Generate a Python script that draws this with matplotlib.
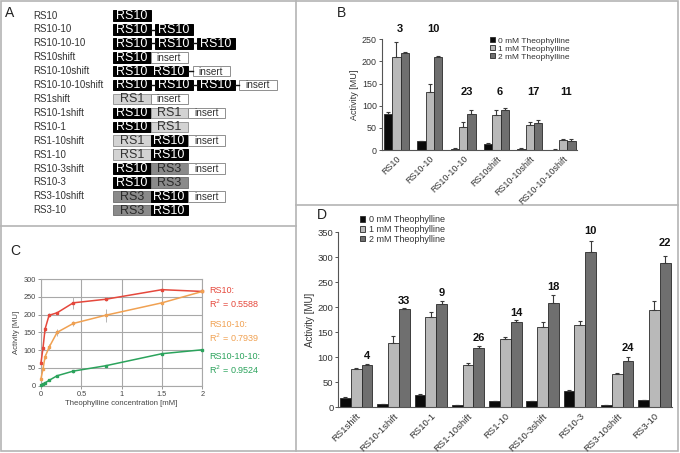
import numpy as np
import matplotlib
matplotlib.use("Agg")
import matplotlib.pyplot as plt
from matplotlib.patches import Rectangle

plt.rcParams["font.family"] = ["Liberation Sans", "DejaVu Sans"]

# ---------------- data ----------------
# Panel A: construct names and their building blocks ("-" = linker)
construct_names = [
    "RS10", "RS10-10", "RS10-10-10", "RS10shift", "RS10-10shift",
    "RS10-10-10shift", "RS1shift", "RS10-1shift", "RS10-1", "RS1-10shift",
    "RS1-10", "RS10-3shift", "RS10-3", "RS3-10shift", "RS3-10",
]
construct_parts = [
    ["RS10"],
    ["RS10", "-", "RS10"],
    ["RS10", "-", "RS10", "-", "RS10"],
    ["RS10", "insert"],
    ["RS10", "RS10", "-", "insert"],
    ["RS10", "-", "RS10", "-", "RS10", "-", "insert"],
    ["RS1", "insert"],
    ["RS10", "RS1", "insert"],
    ["RS10", "RS1"],
    ["RS1", "RS10", "insert"],
    ["RS1", "RS10"],
    ["RS10", "RS3", "insert"],
    ["RS10", "RS3"],
    ["RS3", "RS10", "insert"],
    ["RS3", "RS10"],
]

# Panel B
b_groups = ["RS10", "RS10-10", "RS10-10-10", "RS10shift", "RS10-10shift", "RS10-10-10shift"]
b_0mM = [82, 20, 3, 14, 3, 1]
b_1mM = [210, 132, 51, 78, 56, 22]
b_2mM = [219, 211, 81, 90, 62, 21]
b_0mM_err = [3, 1, 0.5, 1, 1, 0.3]
b_1mM_err = [33, 18, 13, 12, 8, 2]
b_2mM_err = [2, 1, 9, 5, 5, 3]
b_fold = ["3", "10", "23", "6", "17", "11"]
b_fold_y = [273, 273, 130, 130, 130, 130]

# Panel C
c_conc = [0, 0.025, 0.05, 0.1, 0.2, 0.4, 0.8, 1.5, 2.0]
c_rs10 = [65, 106, 159, 198, 205, 233, 243, 270, 265]
c_rs10_err = [3, 4, 10, 5, 3, 17, 6, 3, 2]
c_rs1010 = [20, 47, 81, 108, 150, 175, 198, 233, 265]
c_rs1010_err = [3, 4, 7, 8, 9, 7, 18, 3, 3]
c_rs101010 = [2, 5, 8, 15, 28, 41, 56, 90, 101]
c_rs101010_err = [1, 1, 1, 2, 2, 4, 3, 2, 2]
c_labels = ["RS10:\nR$^2$ = 0.5588", "RS10-10:\nR$^2$ = 0.7939", "RS10-10-10:\nR$^2$ = 0.9524"]

# Panel D
d_groups = ["RS1shift", "RS10-1shift", "RS10-1", "RS1-10shift", "RS1-10",
            "RS10-3shift", "RS10-3", "RS3-10shift", "RS3-10"]
d_0mM = [19, 6, 25, 5, 12, 12, 33, 4, 14]
d_1mM = [77, 128, 180, 84, 136, 161, 164, 66, 194]
d_2mM = [84, 196, 207, 118, 170, 208, 310, 93, 288]
d_0mM_err = [1, 0.5, 2, 0.5, 1, 1, 1, 0.5, 1]
d_1mM_err = [1, 14, 10, 5, 4, 10, 8, 2, 19]
d_2mM_err = [2, 3, 5, 4, 4, 16, 22, 7, 15]
d_fold = ["4", "33", "9", "26", "14", "18", "10", "24", "22"]
d_fold_y = [103, 213, 228, 138, 188, 240, 351, 118, 328]

legend_labels = ["0 mM Theophylline", "1 mM Theophylline", "2 mM Theophylline"]
bar_colors = ["#0a0a0a", "#b9b9b9", "#6f6f6f"]
line_colors = ["#e5483c", "#f0a152", "#2ba35c"]

W, H = 680, 453
fig = plt.figure(figsize=(W / 100, H / 100), dpi=100)


def fig_rect(left, top, right, bottom):
    """pixel box -> figure fraction rect"""
    return [left / W, 1 - bottom / H, (right - left) / W, (bottom - top) / H]


# --- overlay in pixel coords: panel borders, letters, panel A ---
ax0 = fig.add_axes([0, 0, 1, 1])
ax0.set_xlim(0, W)
ax0.set_ylim(H, 0)
ax0.axis("off")

border = "#b4b4b4"
ax0.add_patch(Rectangle((1, 1), W - 3, H - 3, fill=False, ec=border, lw=1.2))
ax0.plot([296, 296], [1, H - 2], color=border, lw=1.2)
ax0.plot([1, 296], [226, 226], color=border, lw=1.2)
ax0.plot([296, W - 2], [205, 205], color=border, lw=1.2)

for letter, (lx, ly) in zip("ABCD", [(10, 13), (342, 13), (15, 251), (322, 215)]):
    ax0.text(lx, ly, letter, fontsize=10, ha="center", va="center", color="#222")

block_style = {
    "RS10": dict(fc="#000000", ec="#000000", tc="white", fs=9),
    "RS1": dict(fc="#d3d3d3", ec="#9a9a9a", tc="#333333", fs=9),
    "RS3": dict(fc="#8a8a8a", ec="#777777", tc="#2a2a2a", fs=9),
    "insert": dict(fc="white", ec="#8f8f8f", tc="#333333", fs=7.2),
}
box_w, box_h, link_w = 37.2, 10.5, 4.8
row0, row_step = 15.6, 13.9
for i, (name, parts) in enumerate(zip(construct_names, construct_parts)):
    yc = row0 + i * row_step
    ax0.text(33, yc, name, fontsize=7, color="#333", ha="left", va="center")
    x = 113.3
    for p in parts:
        if p == "-":
            ax0.plot([x, x + link_w], [yc, yc], color="#111", lw=1.0)
            x += link_w
            continue
        st = block_style[p]
        ax0.add_patch(Rectangle((x, yc - box_h / 2), box_w, box_h,
                                fc=st["fc"], ec=st["ec"], lw=0.7))
        ax0.text(x + box_w / 2, yc + 0.4, p, fontsize=st["fs"], color=st["tc"],
                 ha="center", va="center")
        x += box_w


def bar_panel(ax, groups, vals, errs, width, xlim, ymax, ystep, fold, fold_y, fold_dx):
    xs = np.arange(len(groups))
    handles = []
    for k in range(3):
        e = np.array(errs[k], dtype=float)
        h = ax.bar(xs + (k - 1) * width, vals[k], width, color=bar_colors[k],
                   edgecolor="#2a2a2a", linewidth=0.6,
                   yerr=[np.zeros_like(e), e],
                   error_kw=dict(ecolor="#3a3a3a", elinewidth=0.8, capsize=1.5, capthick=0.8))
        handles.append(h)
    for x, t, y in zip(xs, fold, fold_y):
        ax.text(x + fold_dx, y, t, fontsize=8, fontweight="bold", ha="center",
                va="center", color="#111")
    ax.set_xlim(*xlim)
    ax.set_ylim(0, ymax)
    ax.set_yticks(np.arange(0, ymax + 1, ystep))
    ax.set_xticks(xs)
    ax.set_xticklabels(groups, rotation=45, ha="right", rotation_mode="anchor")
    for s in ["top", "right"]:
        ax.spines[s].set_visible(False)
    for s in ["left", "bottom"]:
        ax.spines[s].set_color("#555")
        ax.spines[s].set_linewidth(0.8)
    ax.tick_params(axis="y", length=2, width=0.7, colors="#555", labelcolor="#333", pad=1.5)
    ax.tick_params(axis="x", length=0, labelcolor="#333", pad=3)
    ax.set_ylabel("Activity [MU]", color="#333", labelpad=2)
    ax.patch.set_alpha(0)
    return handles


# --- panel B ---
axB = fig.add_axes(fig_rect(381.7, 39.3, 577, 150))
hB = bar_panel(axB, b_groups, [b_0mM, b_1mM, b_2mM], [b_0mM_err, b_1mM_err, b_2mM_err],
               0.25, (-0.44, 5.42), 250, 50, b_fold, b_fold_y, 0.1)
for lab in axB.get_xticklabels() + axB.get_yticklabels():
    lab.set_fontsize(6.4)
axB.yaxis.label.set_fontsize(6.5)
axB.legend(hB, legend_labels, loc="upper left", bbox_to_anchor=(490 / W, 1 - 37 / H),
           bbox_transform=fig.transFigure, frameon=False, fontsize=6,
           handlelength=0.6, handleheight=0.6, handletextpad=0.3, labelspacing=0.05,
           borderpad=0, borderaxespad=0, labelcolor="#333")

# --- panel D ---
axD = fig.add_axes(fig_rect(338.3, 232, 672, 407.3))
hD = bar_panel(axD, d_groups, [d_0mM, d_1mM, d_2mM], [d_0mM_err, d_1mM_err, d_2mM_err],
               0.29, (-0.48, 8.47), 350, 50, d_fold, d_fold_y, 0.29)
for lab in axD.get_xticklabels() + axD.get_yticklabels():
    lab.set_fontsize(6.8)
axD.yaxis.label.set_fontsize(7)
axD.legend(hD, legend_labels, loc="upper left", bbox_to_anchor=(360 / W, 1 - 215 / H),
           bbox_transform=fig.transFigure, frameon=False, fontsize=6.5,
           handlelength=0.6, handleheight=0.6, handletextpad=0.35, labelspacing=0.1,
           borderpad=0, borderaxespad=0, labelcolor="#333")

# --- panel C ---
axC = fig.add_axes(fig_rect(41, 279, 202.3, 385.7))
series = [(c_rs10, c_rs10_err), (c_rs1010, c_rs1010_err), (c_rs101010, c_rs101010_err)]
for (vals, errs), col in zip(series, line_colors):
    axC.errorbar(c_conc, vals, yerr=errs, fmt="none", ecolor="#b5b5b5", elinewidth=0.7,
                 capsize=0, zorder=2)
    axC.plot(c_conc, vals, color=col, lw=1.1, marker="s", ms=2.0, zorder=3, clip_on=False)
for txt, col, yc in zip(c_labels, line_colors, [297.7, 332.3, 364.3]):
    ax0.text(209.3, yc, txt, color=col, fontsize=6.5, ha="left", va="center", linespacing=1.25)
axC.set_xlim(0, 2)
axC.set_ylim(0, 300)
axC.set_xticks([0, 0.5, 1, 1.5, 2])
axC.set_xticklabels(["0", "0.5", "1", "1.5", "2"])
axC.set_yticks(np.arange(0, 301, 50))
axC.grid(True, color="#a8a8a8", lw=0.8)
axC.set_axisbelow(True)
for s in axC.spines.values():
    s.set_color("#a8a8a8")
    s.set_linewidth(0.8)
axC.tick_params(length=2, width=0.6, colors="#888", labelcolor="#444", labelsize=5.3, pad=1.5)
axC.set_xlabel("Theophylline concentration [mM]", fontsize=5.6, color="#444", labelpad=2)
axC.set_ylabel("Activity [MU]", fontsize=5.6, color="#444", labelpad=3)

fig.savefig("out.png", dpi=100)
